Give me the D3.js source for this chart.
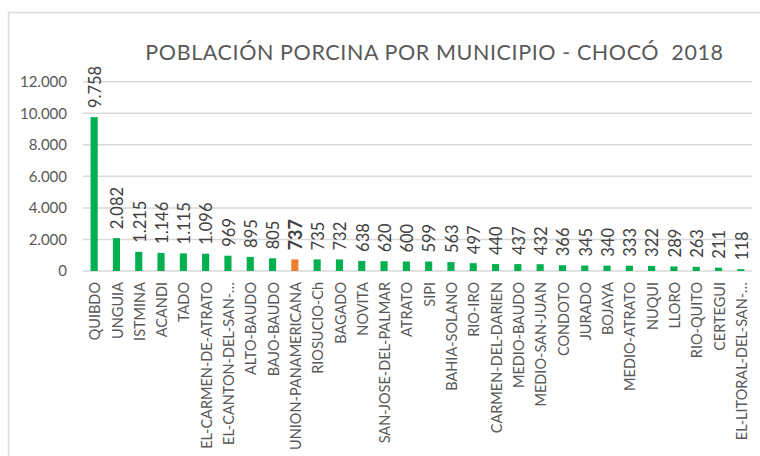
<!DOCTYPE html>
<html>
<head>
<meta charset="utf-8">
<script src="https://cdn.jsdelivr.net/npm/d3@7"></script>
<style>
  body { margin: 0; background: #fff; }
  text { font-family: Lato, "Open Sans", sans-serif; }
</style>
</head>
<body>
<div id="chart"></div>
<script>
// data
var municipios = ["QUIBDO", "UNGUIA", "ISTMINA", "ACANDI", "TADO", "EL-CARMEN-DE-ATRATO",
  "EL-CANTON-DEL-SAN-…", "ALTO-BAUDO", "BAJO-BAUDO", "UNION-PANAMERICANA", "RIOSUCIO-Ch",
  "BAGADO", "NOVITA", "SAN-JOSE-DEL-PALMAR", "ATRATO", "SIPI", "BAHIA-SOLANO", "RIO-IRO",
  "CARMEN-DEL-DARIEN", "MEDIO-BAUDO", "MEDIO-SAN-JUAN", "CONDOTO", "JURADO", "BOJAYA",
  "MEDIO-ATRATO", "NUQUI", "LLORO", "RIO-QUITO", "CERTEGUI", "EL-LITORAL-DEL-SAN-…"];
var cerdos = [9758, 2082, 1215, 1146, 1115, 1096, 969, 895, 805, 737, 735, 732, 638, 620,
  600, 599, 563, 497, 440, 437, 432, 366, 345, 340, 333, 322, 289, 263, 211, 118];
var yTicks = [0, 2000, 4000, 6000, 8000, 10000, 12000];
var destacado = "UNION-PANAMERICANA";

var W = 760, H = 456;
var margin = {top: 81.7, right: 8, bottom: 185, left: 83};
var width = 752 - margin.left,
    height = 271 - margin.top;

var svg = d3.select("#chart")
  .append("svg")
    .attr("width", W)
    .attr("height", H);

// chart frame (runs off the right and bottom of the picture)
svg.append("rect")
  .attr("x", 8.5).attr("y", 12.5)
  .attr("width", 820).attr("height", 520)
  .attr("fill", "#fff")
  .attr("stroke", "#d9d9d9")
  .attr("stroke-width", 1.5);

// title
svg.append("text")
  .attr("x", 434.5)
  .attr("y", 59.5)
  .attr("text-anchor", "middle")
  .style("font-size", "21.5px")
  .style("letter-spacing", "0.6px")
  .style("fill", "#595959")
  .style("white-space", "pre")
  .text("POBLACIÓN PORCINA POR MUNICIPIO - CHOCÓ  2018");

var g = svg.append("g")
  .attr("transform", "translate(" + margin.left + "," + margin.top + ")");

var x = d3.scaleBand()
  .domain(municipios)
  .range([0, width])
  .padding(0);

var y = d3.scaleLinear()
  .domain([0, 12000])
  .range([height, 0]);

var fmt = d3.formatLocale({decimal: ",", thousands: ".", grouping: [3], currency: ["", ""]}).format(",d");

// gridlines
g.selectAll(".grid")
  .data(yTicks)
  .enter().append("line")
    .attr("x1", 0).attr("x2", width)
    .attr("y1", function(d) { return y(d); })
    .attr("y2", function(d) { return y(d); })
    .attr("stroke", "#d9d9d9")
    .attr("stroke-width", 1.5);

// y axis labels
var yAxis = g.append("g")
  .call(d3.axisLeft(y).tickValues(yTicks).tickSize(0).tickPadding(16).tickFormat(fmt));
yAxis.select(".domain").remove();
yAxis.selectAll("text")
  .style("font-family", "Lato, sans-serif")
  .style("font-size", "15px")
  .style("fill", "#595959");

// bars
var barW = x.bandwidth() * 0.32;
g.selectAll(".bar")
  .data(cerdos)
  .enter().append("rect")
    .attr("x", function(d, i) { return x(municipios[i]) + x.bandwidth() / 2 - barW / 2; })
    .attr("y", function(d) { return y(d); })
    .attr("width", barW)
    .attr("height", function(d) { return y(0) - y(d); })
    .attr("fill", function(d, i) { return municipios[i] == destacado ? "#ed7d31" : "#00b050"; });

// value labels, rotated
g.selectAll(".val")
  .data(cerdos)
  .enter().append("text")
    .attr("transform", function(d, i) {
      return "translate(" + (x(municipios[i]) + x.bandwidth() / 2 + 1) + "," + (y(d) - 9) + ") rotate(-90)";
    })
    .attr("dy", "0.35em")
    .attr("text-anchor", "start")
    .style("font-size", function(d, i) { return municipios[i] == destacado ? "18px" : "16.5px"; })
    .style("font-weight", function(d, i) { return municipios[i] == destacado ? "bold" : "normal"; })
    .style("fill", "#404040")
    .text(function(d) { return fmt(d); });

// category labels, rotated
g.selectAll(".cat")
  .data(municipios)
  .enter().append("text")
    .attr("transform", function(d) {
      return "translate(" + (x(d) + x.bandwidth() / 2 + 1) + "," + (height + 11) + ") rotate(-90)";
    })
    .attr("dy", "0.35em")
    .attr("text-anchor", "end")
    .style("font-size", "14.5px")
    .style("fill", "#595959")
    .text(function(d) { return d; });
</script>
</body>
</html>
